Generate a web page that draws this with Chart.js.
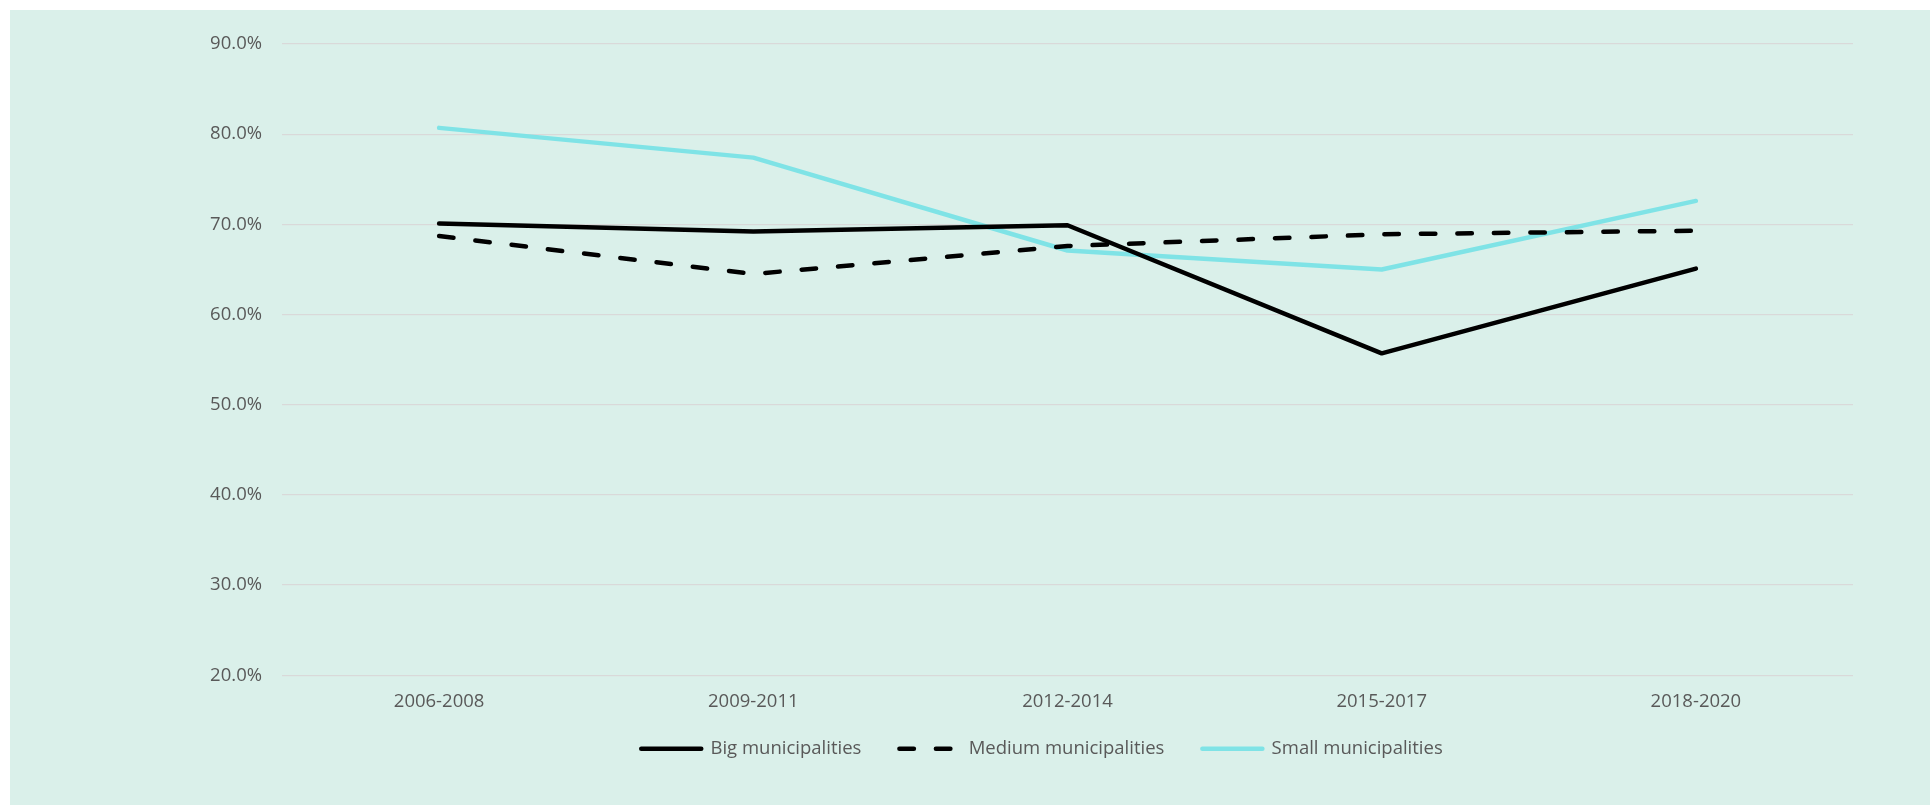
<!DOCTYPE html>
<html>
<head>
<meta charset="utf-8">
<title>Municipalities</title>
<script src="https://cdn.jsdelivr.net/npm/chart.js@4/dist/chart.umd.min.js"></script>
<style>
  html, body { margin: 0; padding: 0; background: #fff; }
  #box {
    position: absolute; left: 10px; top: 10px;
    width: 1920px; height: 795px;
    background: #daf0ea;
  }
</style>
</head>
<body>
<div id="box"><canvas id="myChart"></canvas></div>
<script>

// dati
var periodi = ['2006-2008', '2009-2011', '2012-2014', '2015-2017', '2018-2020'];
var big = [70.1, 69.2, 69.9, 55.7, 65.1];
var medium = [68.7, 64.5, 67.6, 68.9, 69.3];
var small = [80.7, 77.4, 67.1, 65.0, 72.6];
var yTicks = [20, 30, 40, 50, 60, 70, 80, 90];

Chart.defaults.font.family = "'Open Sans', sans-serif";
Chart.defaults.font.size = 18.5;
Chart.defaults.color = '#595959';

function serie(label, data, colore, dash){
  return {
    label: label,
    data: data,
    borderColor: colore,
    backgroundColor: colore,
    borderWidth: 4.5,
    borderDash: dash,
    borderCapStyle: 'round',
    borderJoinStyle: 'round',
    pointRadius: 0,
    pointHoverRadius: 0,
    tension: 0,
    fill: false
  };
}

// legenda: riprende tratteggio e cap dalla linea del dataset
function legendLabels(chart){
  var items = Chart.defaults.plugins.legend.labels.generateLabels(chart);
  items.forEach(function(it){
    var ds = chart.data.datasets[it.datasetIndex];
    it.lineDash = ds.borderDash;
    it.lineCap = 'round';
    it.lineWidth = ds.borderWidth;
  });
  return items;
}

// sposta la legenda piu' vicino all'asse e un po' a destra
var legendShift = {
  id: 'legendShift',
  afterLayout: function(chart){
    var l = chart.legend;
    l.top -= 26;
    l.bottom -= 26;
    l.left += 12;
    l.right += 12;
  }
};

var ctx = document.getElementById('myChart');
var chart = new Chart(ctx, {
  type: 'line',
  data: {
    labels: periodi,
    datasets: [
      serie('Big municipalities', big, '#000000', []),
      serie('Medium municipalities', medium, '#000000', [14.5, 22]),
      serie('Small municipalities', small, '#7fe3e6', [])
    ]
  },
  options: {
    responsive: true,
    maintainAspectRatio: false,
    animation: false,
    layout: {
      padding: { left: 197, right: 77, top: 34, bottom: 11 }
    },
    scales: {
      x: {
        offset: true,
        grid: { display: false, drawTicks: false },
        border: { display: false },
        ticks: { padding: 15, maxRotation: 0 }
      },
      y: {
        min: yTicks[0],
        max: yTicks[yTicks.length - 1],
        afterBuildTicks: function(scale){
          scale.ticks = yTicks.map(function(v){ return { value: v }; });
        },
        afterFit: function(scale){ scale.width = 75; },
        grid: { color: '#d9d9d9', lineWidth: 1.3, drawTicks: false },
        border: { display: false },
        ticks: {
          padding: 20,
          callback: function(v){ return v.toFixed(1) + '%'; }
        }
      }
    },
    plugins: {
      legend: {
        position: 'bottom',
        labels: {
          usePointStyle: true,
          pointStyle: 'line',
          pointStyleWidth: 60,
          padding: 38,
          color: '#595959',
          generateLabels: legendLabels
        }
      },
      tooltip: { enabled: false }
    }
  },
  plugins: [legendShift]
});

</script>
</body>
</html>
